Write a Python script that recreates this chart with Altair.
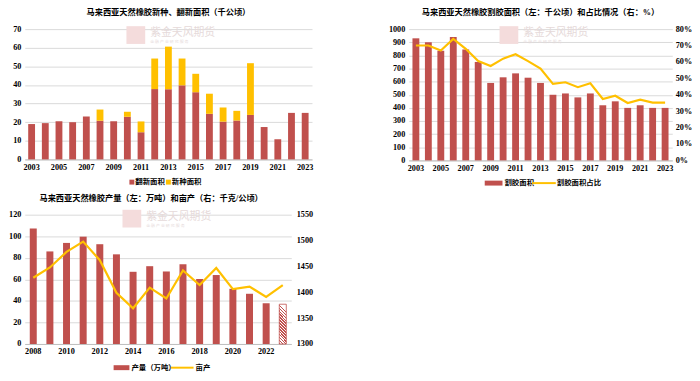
import altair as alt
import pandas as pd

# ---------------- data ----------------
years_a = [str(y) for y in range(2003, 2024)]
renew_area = [19, 19.5, 20.5, 20, 23, 20.8, 20.5, 22.9, 14.6, 37.8, 37.7, 39.8, 36.1,
              24.5, 20.3, 20.9, 23.9, 17.4, 10.9, 25, 25]
new_area = [0, 0, 0, 0, 0, 6, 0, 2.7, 5.8, 16.4, 22.9, 14.4, 9.9,
            10.8, 7.6, 5.2, 27.8, 0, 0, 0, 0]

tap_area = [930, 900, 835, 940, 845, 750, 590, 633, 663, 630, 590, 500, 510,
            480, 510, 420, 450, 400, 420, 400, 400]
tap_ratio = [70, 70, 67, 74, 68, 60.5, 57.5, 62, 64.7, 60.5, 56, 46.6, 47.6,
             44.6, 47, 37.4, 39.4, 35, 37, 35.2, 35.2]

years_c = [str(y) for y in range(2008, 2024)]
output = [107.2, 85.9, 93.8, 99.6, 92.6, 83.2, 67, 72.2, 67.3, 74, 60.3, 64,
          51.2, 46.6, 37.8, 36.9]
yield_kg = [1428, 1448, 1478, 1498, 1462, 1399, 1369, 1409, 1388, 1442, 1414,
            1447, 1406, 1411, 1391, 1414]
forecast_year = "2023"

# ---------------- style ----------------
FONT = "Liberation Serif, Noto Sans CJK SC"
RED = "#C0504D"
YEL = "#FFC000"
GRID = "#D9D9D9"
FS = 8.3
LFS = 7.5

def lbl_axis(parity, **kw):
    return alt.Axis(title=None, labelAngle=0, ticks=False, domainColor="#BFBFBF",
                    labelExpr=f"toNumber(datum.value) % 2 == {parity} ? datum.label : ''",
                    labelPadding=3, labelOverlap=False, **kw)

def yaxis(values, **kw):
    return alt.Axis(title=None, values=values, domain=False, ticks=False, labelPadding=4,
                    labelOverlap=False, format="d", **kw)

def swatch_rect(x, y, w, hgt, color):
    return alt.Chart(alt.Data(values=[{}])).mark_rect(color=color).encode(
        x=alt.value(x), x2=alt.value(x + w), y=alt.value(y - hgt / 2), y2=alt.value(y + hgt / 2))

def swatch_line(x, y, w, color):
    return alt.Chart(alt.Data(values=[{}])).mark_rule(color=color, strokeWidth=2).encode(
        x=alt.value(x), x2=alt.value(x + w), y=alt.value(y))

def label(x, y, txt, size=LFS, color="black", weight="bold", align="left"):
    return alt.Chart(alt.Data(values=[{}])).mark_text(
        align=align, baseline="middle", font=FONT, fontSize=size, fontWeight=weight, color=color
    ).encode(x=alt.value(x), y=alt.value(y), text=alt.value(txt))

def watermark(x, y):
    return alt.layer(
        swatch_rect(x, y, 19, 18, "#F4DCDC"),
        label(x + 24, y - 2, "紫金天风期货", size=11, color="#E6DADA", weight="normal"),
        label(x + 24, y + 7, "金 融 产 业   研 究 服 务", size=4, color="#E6DADA", weight="normal"),
    )

# ---------------- panel 1 ----------------
W1, H1 = 291, 132
df1 = pd.DataFrame({"year": years_a, "renew": renew_area, "new": new_area})
df1["top"] = df1["renew"] + df1["new"]
xa = alt.X("year:N", scale=alt.Scale(paddingInner=0.5, paddingOuter=0.25), axis=lbl_axis(1))
ya = alt.Y("renew:Q", scale=alt.Scale(domain=[0, 70]),
           axis=yaxis(list(range(0, 71, 10)), grid=True, gridColor=GRID))
b1 = alt.Chart(df1).mark_bar(color=RED).encode(x=xa, y=ya)
b2 = alt.Chart(df1).mark_bar(color=YEL).encode(x=xa, y=ya, y2="top:Q")
p1 = alt.layer(
    watermark(103, 6),
    b1, b2,
    swatch_rect(106, H1 + 23, 5, 5, RED), label(112, H1 + 23, "翻新面积"),
    swatch_rect(143, H1 + 23, 5, 5, YEL), label(149, H1 + 23, "新种面积"),
).properties(width=W1, height=H1,
             title=alt.TitleParams("马来西亚天然橡胶新种、翻新面积（千公顷）", offset=8))

# ---------------- panel 2 ----------------
W2, H2 = 267, 133
df2 = pd.DataFrame({"year": years_a, "area": tap_area, "ratio": tap_ratio})
xb = alt.X("year:N", scale=alt.Scale(paddingInner=0.45, paddingOuter=0.3), axis=lbl_axis(1))
bars2 = alt.Chart(df2).mark_bar(color=RED).encode(
    x=xb,
    y=alt.Y("area:Q", scale=alt.Scale(domain=[0, 1000]),
            axis=yaxis(list(range(0, 1001, 100)), grid=True, gridColor=GRID)))
line2 = alt.Chart(df2).mark_line(color=YEL, strokeWidth=2.2).encode(
    x=xb,
    y=alt.Y("ratio:Q", scale=alt.Scale(domain=[0, 80]),
            axis=alt.Axis(title=None, orient="right", values=list(range(0, 81, 10)), grid=False,
                          domain=False, ticks=False, labelPadding=3, labelOverlap=False,
                          labelExpr="datum.value + '%'")))
p2 = alt.layer(
    watermark(92, 6),
    bars2, line2,
    swatch_rect(77, H2 + 23, 18, 5, RED), label(97, H2 + 23, "割胶面积"),
    swatch_line(125, H2 + 23, 24, YEL), label(150, H2 + 23, "割胶面积占比"),
).resolve_scale(y="independent").properties(
    width=W2, height=H2,
    title=alt.TitleParams("马来西亚天然橡胶割胶面积（左：千公顷）和占比情况（右：%）", offset=8))

# ---------------- panel 3 ----------------
W3, H3 = 270, 131
df3 = pd.DataFrame({"year": years_c, "output": output, "yield": yield_kg})
xc = alt.X("year:N", scale=alt.Scale(paddingInner=0.58, paddingOuter=0.3), axis=lbl_axis(0))
ycl = alt.Y("output:Q", scale=alt.Scale(domain=[0, 120]),
            axis=yaxis(list(range(0, 121, 20)), grid=True, gridColor=GRID))
stops = []
n = 14
for i in range(n):
    a, b = i / n, (i + 0.5) / n
    stops += [alt.GradientStop(color=RED, offset=a), alt.GradientStop(color=RED, offset=b),
              alt.GradientStop(color="white", offset=b), alt.GradientStop(color="white", offset=(i + 1) / n)]
hatch = alt.LinearGradient(gradient="linear", stops=stops, x1=0, y1=1, x2=0.18, y2=0)
bars3 = alt.Chart(df3).mark_bar(color=RED).encode(x=xc, y=ycl).transform_filter(
    alt.datum.year != forecast_year)
bars3h = alt.Chart(df3).mark_bar(fill=hatch, stroke=RED, strokeWidth=0.8).encode(
    x=xc, y=ycl).transform_filter(alt.datum.year == forecast_year)
line3 = alt.Chart(df3).mark_line(color=YEL, strokeWidth=2.2).encode(
    x=xc,
    y=alt.Y("yield:Q", scale=alt.Scale(domain=[1300, 1550]),
            axis=alt.Axis(title=None, orient="right", values=list(range(1300, 1551, 50)), grid=False,
                          domain=False, ticks=False, labelPadding=5, labelOverlap=False, format="d")))
left3 = alt.layer(bars3, bars3h)
p3 = alt.layer(
    watermark(99, 4),
    left3, line3,
    swatch_rect(90, H3 + 24, 16, 5, RED), label(108, H3 + 24, "产量（万吨）"),
    swatch_line(148, H3 + 24, 23, YEL), label(173, H3 + 24, "亩产"),
).resolve_scale(y="independent").properties(
    width=W3, height=H3,
    title=alt.TitleParams("马来西亚天然橡胶产量（左：万吨）和亩产（右：千克/公顷）", offset=8, dx=-7))

chart = alt.vconcat(
    alt.hconcat(p1, p2, spacing=76),
    p3, spacing=6,
).properties(padding={"top": -3, "left": 0, "right": 0, "bottom": 0}).configure_view(stroke=None).configure_axis(
    labelFont=FONT, labelFontSize=FS, labelFontWeight="bold", labelColor="black"
).configure_title(font=FONT, fontSize=8.3, fontWeight="bold", color="black", anchor="middle")

chart.save("out.html", embed_options={"renderer": "svg", "actions": False})
